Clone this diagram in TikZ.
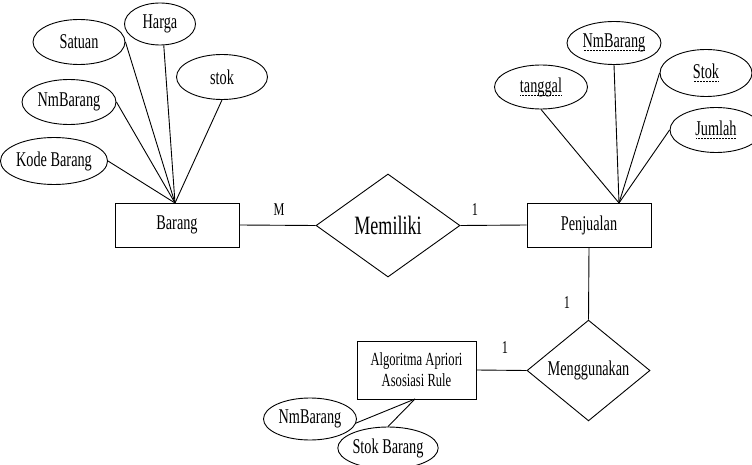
\documentclass[tikz,border=0pt]{standalone}
\usepackage{fontspec}
\setmainfont{Liberation Serif}[FakeStretch=0.68]
\usetikzlibrary{shapes.geometric}
\newsavebox\dulbox
\newcommand\dul[1]{\sbox\dulbox{#1}\rlap{\usebox\dulbox}\raisebox{-3.5pt}{\hbox to \wd\dulbox{\cleaders\hbox to 1.5pt{\hss\vrule width .7pt height .7pt\hss}\hfill}}}
\begin{document}
\begin{tikzpicture}[x=1pt,y=-1pt,line width=0.9pt,
  ent/.style={draw,rectangle,inner sep=0pt,font=\fontsize{21}{23}\selectfont},
  attr/.style={draw,ellipse,inner sep=0pt,font=\fontsize{21}{23}\selectfont},
  rel/.style={draw,diamond,inner sep=0pt},
  card/.style={inner sep=0pt,font=\fontsize{18}{20}\selectfont}]
\useasboundingbox (0,0) rectangle (752,465);
% entities
\node[ent,minimum width=124pt,minimum height=44pt] (barang) at (177,225) {Barang};
\node[ent,minimum width=124pt,minimum height=44pt] (penj) at (589,225) {Penjualan};
\node[ent,minimum width=119pt,minimum height=58pt,align=center,font=\fontsize{18.5}{21}\selectfont] (algo) at (416.5,370) {Algoritma Apriori\\Asosiasi Rule};
% relations
\node[rel,minimum width=144pt,minimum height=103pt,font=\fontsize{26.5}{28}\selectfont] (mem) at (388,225.5) {Memiliki};
\node[rel,minimum width=123pt,minimum height=87pt,font=\fontsize{21}{23}\selectfont] (meng) at (588.5,370.5) {Menggunakan};
% Barang attributes
\node[attr,minimum width=92pt,minimum height=45pt] (satuan) at (79,42) {Satuan};
\node[attr,minimum width=71pt,minimum height=42pt] (harga) at (160,24) {Harga};
\node[attr,minimum width=91pt,minimum height=45pt] (stok) at (222,77) {stok};
\node[attr,minimum width=94pt,minimum height=45pt] (nmb) at (69,102) {NmBarang};
\node[attr,minimum width=101pt,minimum height=47pt] (kode) at (54,161) {Kode Barang};
% Penjualan attributes
\node[attr,minimum width=93pt,minimum height=44pt] (tgl) at (541,87) {\dul{tanggal}};
\node[attr,minimum width=94pt,minimum height=43pt] (nmb2) at (614,43) {\dul{NmBarang}};
\node[attr,minimum width=92pt,minimum height=47pt] (stok2) at (706,73) {\dul{Stok}};
\node[attr,minimum width=92pt,minimum height=45pt] (jml) at (716,130) {\dul{Jumlah}};
% Algoritma attributes
\node[attr,minimum width=93pt,minimum height=42pt] (nmb3) at (310,419) {NmBarang};
\node[attr,minimum width=97pt,minimum height=42pt] (sb) at (388,448) {Stok Barang};
% convergence points
\coordinate (bc) at (175,203);
\coordinate (pc) at (619,203);
\coordinate (ac) at (415,399);
% connectors
\draw (bc) -- (kode.east);
\draw (bc) -- (nmb.east);
\draw (bc) -- (satuan.east);
\draw (bc) -- (harga.-80);
\draw (bc) -- (stok.south);
\draw (pc) -- (tgl.south);
\draw (pc) -- (nmb2.south);
\draw (pc) -- (stok2.west);
\draw (pc) -- (jml.west);
\draw (ac) -- (nmb3.-5);
\draw (ac) -- (sb.north);
\draw (barang.east) -- (mem.west);
\draw (mem.east) -- (penj.west);
\draw (penj.south) -- (meng.north);
\draw (algo.east) -- (meng.west);
% cardinalities
\node[card] (cm) at (279,210) {M};
\node[card] (c1) at (475,210) {1};
\node[card] (c2) at (567,303) {1};
\node[card] (c3) at (505,348) {1};
\end{tikzpicture}
\end{document}
